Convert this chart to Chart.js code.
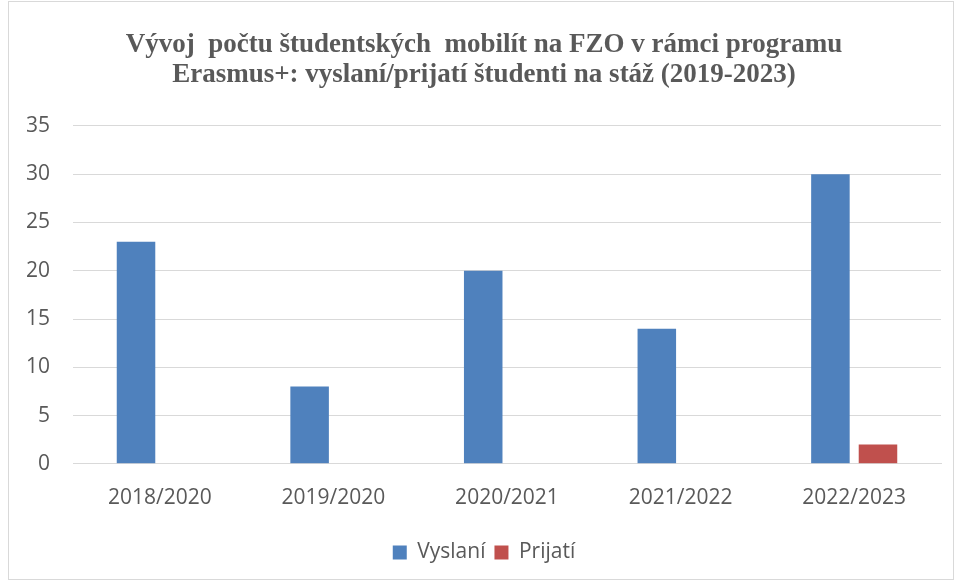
<!DOCTYPE html>
<html>
<head>
<meta charset="utf-8">
<script src="https://cdn.jsdelivr.net/npm/chart.js@4"></script>
<style>
  body { margin: 0; background: #fff; }
  #frame { position: absolute; left: 8px; top: 1px; width: 944px; height: 577px; border: 1px solid #d9d9d9; }
  #frame canvas { display: block; }
</style>
</head>
<body>
<div id="frame"><canvas id="chart" width="944" height="577"></canvas></div>
<script>
// Chart data
const categories = ['2018/2020', '2019/2020', '2020/2021', '2021/2022', '2022/2023'];
const vyslani = [23, 8, 20, 14, 30];
const prijati = [0, 0, 0, 0, 2];
const titleLines = [
    'Vývoj  počtu študentských  mobilít na FZO v rámci programu',
    'Erasmus+: vyslaní/prijatí študenti na stáž (2019-2023)'
];

const textColor = '#595959';
const gridColor = '#d9d9d9';

const ctx = document.getElementById('chart').getContext('2d');
new Chart(ctx, {
    type: 'bar',
    data: {
        labels: categories,
        datasets: [
            {
                label: 'Vyslaní',
                data: vyslani,
                backgroundColor: '#4f81bd',
                categoryPercentage: 0.548,
                barPercentage: 0.81
            },
            {
                label: 'Prijatí',
                data: prijati,
                backgroundColor: '#c0504d',
                categoryPercentage: 0.548,
                barPercentage: 0.81
            }
        ]
    },
    options: {
        responsive: false,
        animation: false,
        layout: {
            padding: { left: 18, right: 12, top: 0, bottom: 6 }
        },
        scales: {
            x: {
                grid: { display: false, drawTicks: false },
                border: { display: true, color: gridColor, width: 1 },
                ticks: {
                    color: textColor,
                    font: { family: 'Open Sans', size: 21 },
                    padding: 22,
                    maxRotation: 0
                },
                afterFit: function (scale) {
                    scale.paddingLeft = 0;
                    scale.paddingRight = 0;
                }
            },
            y: {
                min: 0,
                max: 35,
                grid: { color: gridColor, drawTicks: false },
                border: { display: false },
                ticks: {
                    stepSize: 5,
                    color: textColor,
                    font: { family: 'Open Sans', size: 21 },
                    padding: 23
                },
                // fixed axis width so the plot starts where the original does
                afterFit: function (scale) {
                    scale.width = 46;
                }
            }
        },
        plugins: {
            title: {
                display: true,
                text: titleLines,
                color: textColor,
                font: { family: 'Liberation Serif', size: 27, weight: 'bold', lineHeight: 1.11 },
                padding: { top: 28, bottom: 36 }
            },
            legend: {
                position: 'bottom',
                labels: {
                    color: textColor,
                    font: { family: 'Open Sans', size: 21 },
                    boxWidth: 14,
                    boxHeight: 14,
                    padding: 9
                }
            },
            tooltip: { enabled: false }
        }
    }
});
</script>
</body>
</html>
